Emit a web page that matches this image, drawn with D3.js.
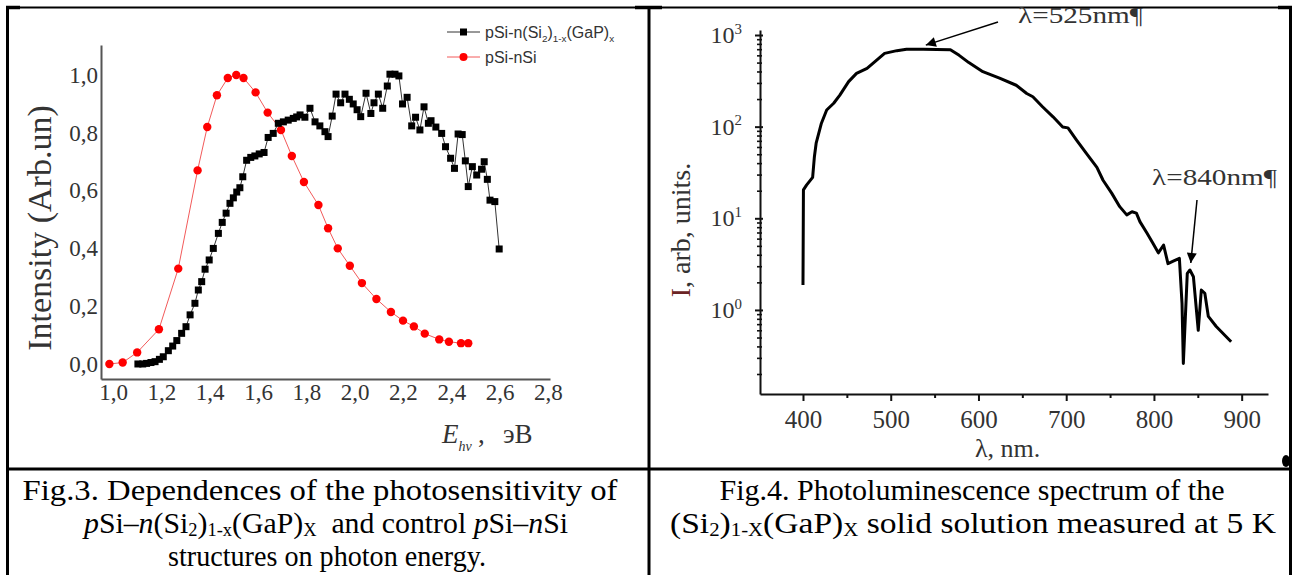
<!DOCTYPE html>
<html>
<head>
<meta charset="utf-8">
<script src="https://cdn.jsdelivr.net/npm/d3@7"></script>
<style>
  body { margin: 0; background: #fff; }
  svg { display: block; }
</style>
</head>
<body>
<script>
// ---- Fig.3 data (photosensitivity vs photon energy) ----
const energyTicks = [1.0, 1.2, 1.4, 1.6, 1.8, 2.0, 2.2, 2.4, 2.6, 2.8];
const intensityTicks = [0.0, 0.2, 0.4, 0.6, 0.8, 1.0];

const sampleE = [1.103, 1.123, 1.139, 1.157, 1.174, 1.192, 1.208, 1.229, 1.247, 1.264,
  1.284, 1.302, 1.319, 1.339, 1.353, 1.367, 1.381, 1.398, 1.415, 1.436,
  1.452, 1.468, 1.484, 1.498, 1.512, 1.525, 1.537, 1.553, 1.570, 1.587,
  1.605, 1.625, 1.642, 1.663, 1.684, 1.705, 1.725, 1.746, 1.760, 1.774,
  1.794, 1.815, 1.836, 1.856, 1.877, 1.890, 1.907, 1.923, 1.942, 1.960,
  1.978, 1.994, 2.010, 2.025, 2.047, 2.067, 2.080, 2.098, 2.116, 2.135,
  2.146, 2.167, 2.183, 2.198, 2.217, 2.236, 2.252, 2.270, 2.287, 2.305,
  2.316, 2.336, 2.360, 2.376, 2.397, 2.413, 2.428, 2.445, 2.458, 2.470,
  2.487, 2.505, 2.525, 2.536, 2.549, 2.560, 2.580, 2.598];
const sampleI = [0.000, 0.000, 0.002, 0.005, 0.008, 0.016, 0.025, 0.046, 0.062, 0.081,
  0.106, 0.129, 0.170, 0.210, 0.256, 0.285, 0.328, 0.360, 0.400, 0.452,
  0.490, 0.522, 0.556, 0.575, 0.595, 0.610, 0.648, 0.705, 0.715, 0.720,
  0.727, 0.732, 0.784, 0.798, 0.833, 0.838, 0.844, 0.850, 0.855, 0.862,
  0.854, 0.885, 0.838, 0.824, 0.804, 0.787, 0.858, 0.934, 0.904, 0.934,
  0.916, 0.900, 0.880, 0.856, 0.937, 0.867, 0.904, 0.934, 0.885, 0.962,
  1.003, 1.003, 0.997, 0.900, 0.923, 0.824, 0.854, 0.810, 0.890, 0.833,
  0.842, 0.820, 0.798, 0.752, 0.712, 0.677, 0.796, 0.794, 0.703, 0.614,
  0.683, 0.654, 0.674, 0.700, 0.639, 0.567, 0.562, 0.398];

const controlE = [0.985, 1.040, 1.100, 1.190, 1.270, 1.350, 1.390, 1.430, 1.475, 1.510,
  1.540, 1.590, 1.640, 1.695, 1.740, 1.790, 1.850, 1.890, 1.930, 1.980,
  2.030, 2.090, 2.150, 2.200, 2.245, 2.290, 2.350, 2.390, 2.440, 2.470];
const controlI = [0.000, 0.005, 0.040, 0.120, 0.330, 0.670, 0.820, 0.930, 0.990, 1.000,
  0.990, 0.940, 0.870, 0.810, 0.720, 0.630, 0.550, 0.470, 0.400, 0.340,
  0.280, 0.225, 0.180, 0.150, 0.130, 0.105, 0.085, 0.077, 0.072, 0.072];

// ---- Fig.4 data (PL spectrum, log scale) ----
const lambdaTicks = [400, 500, 600, 700, 800, 900];
const lambdaMinor = [450, 550, 650, 750, 850];
const decadeTicks = [1, 10, 100, 1000];

const plWavelength = [400, 400.5, 404, 411, 413, 415, 421, 427, 435, 442,
  452, 461, 473, 482, 493, 507, 518, 537, 568, 578,
  589, 605, 624, 643, 655, 662, 673, 685, 696, 702,
  712, 723, 735, 742, 752, 761, 769, 775, 780, 784,
  792, 799, 805, 811, 816, 822, 829, 832, 833.5, 838,
  841, 845, 850.5, 854, 858, 862, 871, 888];
const plIntensity = [1.87, 20.4, 23, 28, 47, 66, 109, 152, 180, 221,
  310, 381, 432, 512, 630, 675, 701, 701, 690, 600,
  500, 398, 338, 283, 230, 212, 165, 128, 99, 97,
  71, 51, 36, 26, 18.7, 13.4, 10.9, 11.8, 11.4, 9.2,
  6.9, 5.3, 4.2, 5.1, 3.2, 3.4, 3.66, 1.18, 0.26, 2.51,
  2.73, 2.3, 0.6, 1.65, 1.52, 0.85, 0.66, 0.45];

const peakLambda = [540, 842];
const peakLevel = [776, 3.25];
const peakText = ["λ=525nm¶", "λ=840nm¶"];

const SERIF = "Liberation Serif";
const SANS = "Liberation Sans";

// text with sub/superscripts: parts = [[text, kind]], kind "", "sub", "sup", "it"
const rich = (sel, parts, size, subShift = 0.22) => {
  let shift = 0;
  parts.forEach(([t, kind]) => {
    const target = kind === "sub" ? size * subShift : kind === "sup" ? -size * 0.4 : 0;
    const ts = sel.append("tspan").text(t);
    if (target !== shift) { ts.attr("dy", target - shift); shift = target; }
    if (kind === "sub" || kind === "sup") ts.attr("font-size", size * 0.62);
    if (kind === "it") ts.attr("font-style", "italic");
  });
  return sel;
};

const svg = d3.select("body").append("svg")
  .attr("width", 1293)
  .attr("height", 575);

// ---------- table frame ----------
const frame = svg.append("g").attr("stroke", "#000");
frame.append("line").attr("x1", 7).attr("x2", 1291).attr("y1", 7.5).attr("y2", 7.5).attr("stroke-width", 2);
frame.append("line").attr("x1", 6).attr("x2", 20).attr("y1", 7.5).attr("y2", 7.5).attr("stroke-width", 3.5);
frame.append("line").attr("x1", 635).attr("x2", 662).attr("y1", 7.5).attr("y2", 7.5).attr("stroke-width", 3.5);
frame.append("line").attr("x1", 1278).attr("x2", 1292).attr("y1", 7.5).attr("y2", 7.5).attr("stroke-width", 3.5);
frame.append("line").attr("x1", 7.5).attr("x2", 7.5).attr("y1", 6).attr("y2", 575).attr("stroke-width", 3);
frame.append("line").attr("x1", 649).attr("x2", 649).attr("y1", 6).attr("y2", 575).attr("stroke-width", 3);
frame.append("line").attr("x1", 1290.5).attr("x2", 1290.5).attr("y1", 6).attr("y2", 575).attr("stroke-width", 3);
frame.append("line").attr("x1", 6).attr("x2", 1292).attr("y1", 469).attr("y2", 469).attr("stroke-width", 3);
svg.append("ellipse").attr("cx", 1286).attr("cy", 461).attr("rx", 4).attr("ry", 6).attr("fill", "#000");

// ---------- Fig.3 ----------
const comma = d => d3.format(".1f")(d).replace(".", ",");
const x1 = d3.scaleLinear().domain([0.9503, 2.8083]).range([101, 550]);
const y1 = d3.scaleLinear().domain([-0.052, 1.104]).range([379, 45]);

const gx1 = svg.append("g").attr("transform", "translate(0,379)")
  .call(d3.axisBottom(x1).tickValues(energyTicks).tickFormat(comma).tickSize(0).tickPadding(5));
const gy1 = svg.append("g").attr("transform", "translate(101,0)")
  .call(d3.axisLeft(y1).tickValues(intensityTicks).tickFormat(comma).tickSize(0).tickPadding(3));
[gx1, gy1].forEach(g => {
  g.select(".domain").attr("stroke", "#555").attr("stroke-width", 2);
  g.selectAll("text").attr("font-family", SERIF).attr("font-size", 23).attr("fill", "#333");
});

const sample = sampleE.map((e, i) => ({ e, v: sampleI[i] }));
const control = controlE.map((e, i) => ({ e, v: controlI[i] }));
const line1 = d3.line().x(d => x1(d.e)).y(d => y1(d.v));

svg.append("path").datum(control).attr("d", line1)
  .attr("fill", "none").attr("stroke", "#f25a5a").attr("stroke-width", 1);
svg.append("path").datum(sample).attr("d", line1)
  .attr("fill", "none").attr("stroke", "#333").attr("stroke-width", 1);

svg.append("g").selectAll("circle").data(control).join("circle")
  .attr("cx", d => x1(d.e)).attr("cy", d => y1(d.v)).attr("r", 4.2).attr("fill", "#ff0000");
svg.append("g").selectAll("rect").data(sample).join("rect")
  .attr("x", d => x1(d.e) - 3.5).attr("y", d => y1(d.v) - 3.5)
  .attr("width", 7).attr("height", 7).attr("fill", "#000");

// legend
const legend = svg.append("g").attr("font-family", SANS).attr("font-size", 16).attr("fill", "#333");
const legendRows = [
  { y: 32, color: "#333", mark: "rect", parts: [["pSi-n(Si", ""], ["2", "sub"], [")", ""], ["1-x", "sub"], ["(GaP)", ""], ["x", "sub"]] },
  { y: 57, color: "#f25a5a", mark: "circle", parts: [["pSi-nSi", ""]] }
];
legendRows.forEach(r => {
  legend.append("line").attr("x1", 447).attr("x2", 480).attr("y1", r.y).attr("y2", r.y)
    .attr("stroke", r.color).attr("stroke-width", 1);
  if (r.mark === "rect") {
    legend.append("rect").attr("x", 460).attr("y", r.y - 3.5).attr("width", 7).attr("height", 7).attr("fill", "#000");
  } else {
    legend.append("circle").attr("cx", 463.5).attr("cy", r.y).attr("r", 4).attr("fill", "#ff0000");
  }
  rich(legend.append("text").attr("x", 485).attr("y", r.y + 6), r.parts, 16);
});

// axis titles
svg.append("text")
  .attr("transform", "translate(51,228) rotate(-90)")
  .attr("text-anchor", "middle")
  .attr("font-family", SERIF).attr("font-size", 34).attr("fill", "#333")
  .text("Intensity (Arb.un)");

const xt = svg.append("text").attr("x", 442).attr("y", 443)
  .attr("font-family", SERIF).attr("font-size", 27).attr("fill", "#333");
xt.append("tspan").attr("font-style", "italic").text("E");
xt.append("tspan").attr("font-style", "italic").attr("font-size", 14).attr("dy", 8).text("hν");
xt.append("tspan").attr("dy", -8).attr("x", 478).text(",");
xt.append("tspan").attr("x", 503).text("эВ");

// ---------- Fig.4 ----------
const x2 = d3.scaleLinear().domain([351, 930]).range([760, 1268]);
const y2 = d3.scaleLog().domain([0.121, 1134]).range([394, 30]);

const gx2 = svg.append("g").attr("transform", "translate(0,394)")
  .call(d3.axisBottom(x2).tickValues(lambdaTicks).tickSize(7).tickSizeOuter(0).tickPadding(9));
svg.append("g").attr("transform", "translate(0,394)")
  .call(d3.axisBottom(x2).tickValues(lambdaMinor).tickSize(4).tickFormat(""))
  .call(g => g.select(".domain").remove())
  .selectAll("line").attr("stroke", "#111").attr("stroke-width", 2);
gx2.select(".domain").attr("stroke", "#111").attr("stroke-width", 2);
gx2.selectAll(".tick line").attr("stroke", "#111").attr("stroke-width", 2);
gx2.selectAll("text").attr("font-family", SERIF).attr("font-size", 25).attr("fill", "#333");

const minor = y2.ticks().filter(v => Math.abs(Math.log10(v) - Math.round(Math.log10(v))) > 1e-6);
svg.append("g").attr("transform", "translate(760,0)")
  .call(d3.axisLeft(y2).tickValues(minor).tickSize(3).tickFormat(""))
  .call(g => g.select(".domain").remove())
  .selectAll("line").attr("x2", -3).attr("x1", 2).attr("stroke", "#111").attr("stroke-width", 1.6);
const gy2 = svg.append("g").attr("transform", "translate(760,0)")
  .call(d3.axisLeft(y2).tickValues(decadeTicks).tickSize(5).tickSizeOuter(0).tickPadding(13).tickFormat(""));
gy2.select(".domain").attr("stroke", "#111").attr("stroke-width", 2);
gy2.selectAll(".tick line").attr("x1", 3).attr("stroke", "#111").attr("stroke-width", 2);
gy2.selectAll(".tick text").each(function (d) {
  const t = d3.select(this).attr("font-family", SERIF).attr("font-size", 24).attr("fill", "#333");
  rich(t, [["10", ""], [String(Math.round(Math.log10(d))), "sup"]], 24);
});

// spectrum curve
const pl = plWavelength.map((w, i) => ({ w, v: plIntensity[i] }));
svg.append("path").datum(pl)
  .attr("d", d3.line().x(d => x2(d.w)).y(d => y2(d.v)))
  .attr("fill", "none").attr("stroke", "#000").attr("stroke-width", 3)
  .attr("stroke-linejoin", "round");

// axis titles
const yt2 = svg.append("text")
  .attr("transform", "translate(690,230) rotate(-90)")
  .attr("text-anchor", "middle")
  .attr("font-family", SERIF).attr("font-size", 28).attr("fill", "#333");
yt2.append("tspan").attr("fill", "#6b2424").text("I");
yt2.append("tspan").text(", arb, units.");

svg.append("text").attr("x", 975).attr("y", 457)
  .attr("font-family", SERIF).attr("font-size", 26).attr("fill", "#333")
  .text("λ, nm.");

// peak annotations with arrows
svg.append("defs").append("marker")
  .attr("id", "head").attr("viewBox", "0 0 10 10").attr("refX", 10).attr("refY", 5)
  .attr("markerWidth", 14).attr("markerHeight", 10).attr("markerUnits", "userSpaceOnUse")
  .attr("orient", "auto")
  .append("path").attr("d", "M0,0 L10,5 L0,10 Z").attr("fill", "#000");

const arrowTail = [[998, 22], [1197, 200]];
const labelPos = [[1018, 23], [1152, 185]];
peakText.forEach((t, i) => {
  svg.append("line")
    .attr("x1", arrowTail[i][0]).attr("y1", arrowTail[i][1])
    .attr("x2", x2(peakLambda[i])).attr("y2", y2(peakLevel[i]))
    .attr("stroke", "#000").attr("stroke-width", 1.5)
    .attr("marker-end", "url(#head)");
  svg.append("text").attr("x", labelPos[i][0]).attr("y", labelPos[i][1])
    .attr("font-family", SERIF).attr("font-size", 24).attr("fill", "#333")
    .attr("textLength", 125).attr("lengthAdjust", "spacingAndGlyphs")
    .text(t);
});

// ---------- captions ----------
const captions = [
  { x: 320, y: 500, w: 595, parts: [["Fig.3. Dependences of the photosensitivity of", ""]] },
  { x: 326, y: 533, w: 484, parts: [["p", "it"], ["Si–", ""], ["n", "it"], ["(Si", ""], ["2", "sub"], [")", ""], ["1-x", "sub"], ["(GaP)", ""], ["X", "sub"], ["\u00a0\u00a0and control ", ""], ["p", "it"], ["Si–", ""], ["n", "it"], ["Si", ""]] },
  { x: 327, y: 566, w: 318, parts: [["structures on photon energy.", ""]] },
  { x: 972, y: 500, w: 505, parts: [["Fig.4. Photoluminescence spectrum of the", ""]] },
  { x: 973, y: 533, w: 606, parts: [["(Si", ""], ["2", "sub"], [")", ""], ["1-X", "sub"], ["(GaP)", ""], ["X", "sub"], [" solid solution measured at 5 K", ""]] }
];
captions.forEach(c => {
  const t = svg.append("text").attr("x", c.x).attr("y", c.y)
    .attr("text-anchor", "middle")
    .attr("font-family", SERIF).attr("font-size", 29).attr("fill", "#000")
    .attr("textLength", c.w).attr("lengthAdjust", "spacingAndGlyphs");
  rich(t, c.parts, 29, 0.1);
});
</script>
</body>
</html>
